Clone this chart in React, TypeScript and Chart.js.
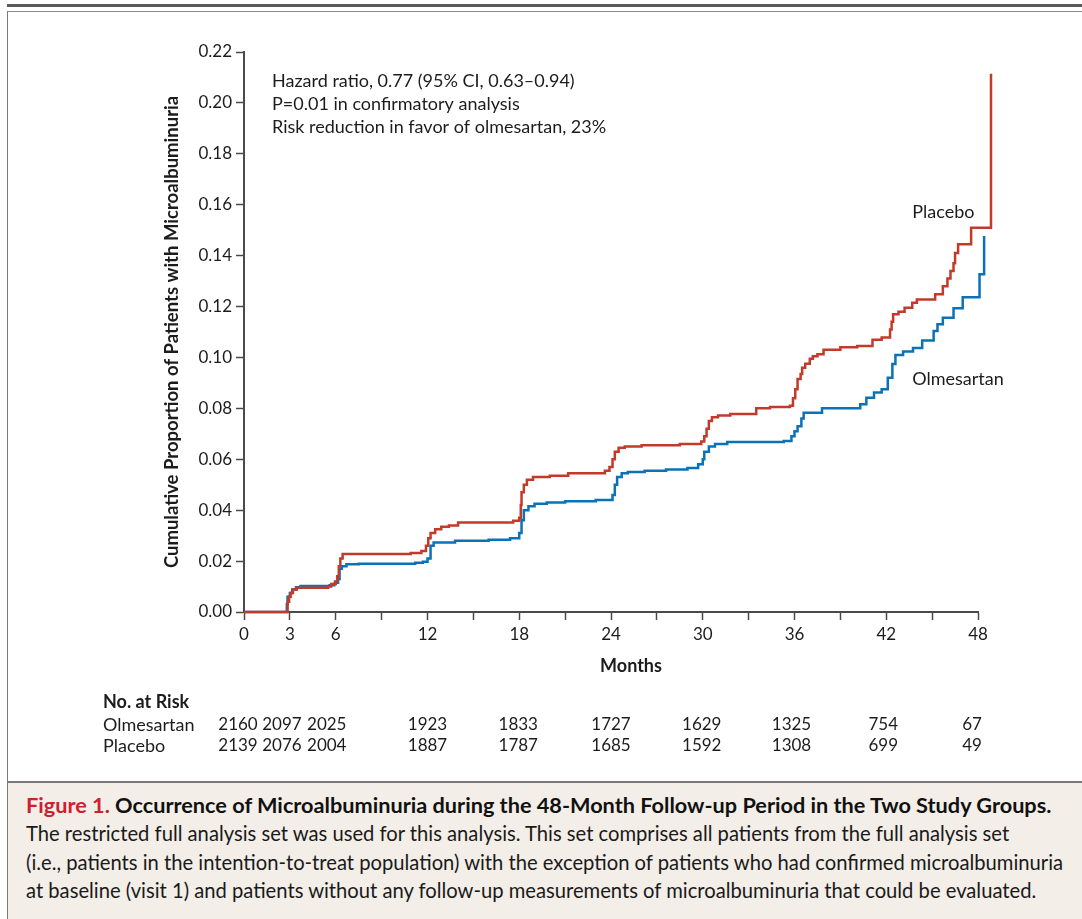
import React, { useEffect, useRef } from 'react';
import { Chart, registerables } from 'chart.js';

Chart.register(...registerables);

const FONT = "Lato, 'Open Sans', 'DejaVu Sans', sans-serif";

const placeboMonths = [0, 2.85, 2.95, 3.05, 3.2, 3.45, 5.5, 5.7, 5.95, 6.1, 6.2, 6.3, 6.45, 10.9, 11.6, 11.9, 12.05, 12.2, 12.5, 12.9, 13.4, 14.0, 17.6, 18.0, 18.1, 18.15, 18.3, 18.5, 18.9, 20.0, 21.2, 23.6, 23.9, 24.1, 24.25, 24.5, 24.9, 26.0, 28.5, 29.9, 30.1, 30.25, 30.4, 30.6, 31.0, 31.8, 33.5, 34.4, 35.7, 35.9, 36.05, 36.2, 36.4, 36.5, 36.7, 37.0, 37.2, 37.5, 37.9, 39.0, 40.1, 41.1, 41.7, 42.25, 42.35, 42.45, 42.8, 43.2, 43.7, 44.0, 45.2, 45.7, 46.0, 46.2, 46.4, 46.5, 46.7, 47.55, 48.85];
const placeboValues = [0, 0.004, 0.006, 0.0075, 0.0088, 0.0095, 0.0100, 0.011, 0.012, 0.014, 0.018, 0.021, 0.0228, 0.0232, 0.0240, 0.026, 0.029, 0.031, 0.0325, 0.0335, 0.034, 0.0352, 0.0358, 0.037, 0.042, 0.047, 0.050, 0.052, 0.053, 0.0535, 0.0545, 0.0555, 0.057, 0.060, 0.063, 0.0645, 0.065, 0.0655, 0.066, 0.067, 0.069, 0.072, 0.075, 0.0765, 0.0772, 0.0778, 0.0800, 0.0805, 0.081, 0.084, 0.0875, 0.0915, 0.0935, 0.096, 0.0975, 0.0995, 0.1005, 0.1013, 0.1030, 0.1040, 0.1045, 0.1070, 0.1078, 0.111, 0.114, 0.117, 0.118, 0.1195, 0.1215, 0.1228, 0.1248, 0.128, 0.131, 0.134, 0.137, 0.141, 0.1445, 0.151, 0.2115];

const olmesartanMonths = [0, 2.8, 2.85, 3.0, 3.15, 3.4, 3.7, 5.6, 5.9, 6.0, 6.15, 6.25, 6.4, 6.7, 7.5, 11.2, 11.7, 12.0, 12.2, 12.4, 13.8, 16.0, 17.4, 18.0, 18.15, 18.3, 18.6, 19.0, 19.8, 21.0, 23.0, 24.1, 24.25, 24.4, 24.7, 25.1, 26.2, 27.6, 29.0, 29.7, 30.0, 30.1, 30.4, 30.8, 31.6, 35.3, 35.8, 36.0, 36.2, 36.45, 36.6, 37.8, 40.3, 40.7, 41.2, 41.7, 42.1, 42.4, 42.6, 43.1, 43.75, 44.35, 45.1, 45.35, 45.7, 46.4, 47.0, 48.1, 48.4];
const olmesartanValues = [0, 0.003, 0.006, 0.0075, 0.0088, 0.0097, 0.0102, 0.0105, 0.011, 0.0115, 0.013, 0.017, 0.018, 0.0188, 0.0190, 0.0193, 0.0197, 0.021, 0.026, 0.0273, 0.0280, 0.0284, 0.0290, 0.031, 0.036, 0.040, 0.0415, 0.0425, 0.0430, 0.0435, 0.0440, 0.046, 0.050, 0.053, 0.0545, 0.0550, 0.0555, 0.0560, 0.0566, 0.058, 0.060, 0.063, 0.065, 0.066, 0.0668, 0.0672, 0.069, 0.071, 0.073, 0.076, 0.0783, 0.0800, 0.0816, 0.0842, 0.0862, 0.0875, 0.092, 0.0974, 0.1010, 0.1023, 0.1037, 0.1067, 0.1104, 0.1130, 0.1156, 0.1193, 0.1237, 0.1327, 0.1477];

const xLabelMonths = [0, 3, 6, 12, 18, 24, 30, 36, 42, 48];
const riskMonths = [0, 3, 6, 12, 18, 24, 30, 36, 42, 48];
const riskOlmesartan = [2160, 2097, 2025, 1923, 1833, 1727, 1629, 1325, 754, 67];
const riskPlacebo = [2139, 2076, 2004, 1887, 1787, 1685, 1592, 1308, 699, 49];
const riskNudge = [-6, -8, -9, 0, -1, 0, -1, -3, -3, -6];

const annotationLines = [
  'Hazard ratio, 0.77 (95% CI, 0.63\u20130.94)',
  'P=0.01 in confirmatory analysis',
  'Risk reduction in favor of olmesartan, 23%',
];

const seriesLabels = [
  { text: 'Placebo', month: 43.7, value: 0.157 },
  { text: 'Olmesartan', month: 43.7, value: 0.0915 },
];

const RED = '#c23a2a';
const BLUE = '#0b72b6';
const AXIS = '#4a4a4a';
const TEXT = '#1c1c1c';

const toPoints = (xs: number[], ys: number[]) => xs.map((x, i) => ({ x, y: ys[i] }));

const textPlugin = {
  id: 'kmText',
  afterDraw(chart: any) {
    const { ctx, chartArea, scales } = chart;
    const xs = scales.x;
    const ys = scales.y;
    ctx.save();
    ctx.fillStyle = TEXT;
    ctx.textBaseline = 'middle';
    ctx.textAlign = 'left';
    ctx.font = `18px ${FONT}`;
    annotationLines.forEach((line, i) => {
      ctx.fillText(line, chartArea.left + 28, chartArea.top + 29 + i * 23);
    });
    seriesLabels.forEach((s) => {
      ctx.fillText(s.text, xs.getPixelForValue(s.month), ys.getPixelForValue(s.value));
    });
    ctx.font = `bold 18px ${FONT}`;
    ctx.textAlign = 'center';
    ctx.fillText('Months', (chartArea.left + chartArea.right) / 2 + 20, chartArea.bottom + 54);
    // risk table
    ctx.textAlign = 'left';
    ctx.fillText('No. at Risk', 103, chartArea.bottom + 90);
    ctx.font = `18px ${FONT}`;
    ctx.fillText('Olmesartan', 103, chartArea.bottom + 113);
    ctx.fillText('Placebo', 103, chartArea.bottom + 134);
    ctx.font = `17px ${FONT}`;
    ctx.textAlign = 'center';
    riskMonths.forEach((m, i) => {
      const px = xs.getPixelForValue(m) + riskNudge[i];
      ctx.fillText(String(riskOlmesartan[i]), px, chartArea.bottom + 113);
      ctx.fillText(String(riskPlacebo[i]), px, chartArea.bottom + 134);
    });
    ctx.restore();
  },
};

export default function App() {
  const canvasRef = useRef<HTMLCanvasElement | null>(null);

  useEffect(() => {
    document.body.style.margin = '0';
    const canvas = canvasRef.current;
    if (!canvas) return;
    const chart = new Chart(canvas, {
      type: 'line',
      data: {
        datasets: [
          {
            label: 'Placebo',
            data: toPoints(placeboMonths, placeboValues),
            borderColor: RED,
            borderWidth: 2.5,
            pointRadius: 0,
            stepped: 'before',
            fill: false,
            clip: false,
          } as any,
          {
            label: 'Olmesartan',
            data: toPoints(olmesartanMonths, olmesartanValues),
            borderColor: BLUE,
            borderWidth: 2.5,
            pointRadius: 0,
            stepped: 'before',
            fill: false,
            clip: false,
          } as any,
        ],
      },
      options: {
        responsive: false,
        animation: false,
        events: [],
        layout: { padding: { left: 150, right: 104, top: 51, bottom: 131 } },
        plugins: {
          legend: { display: false },
          tooltip: { enabled: false },
        },
        scales: {
          x: {
            type: 'linear',
            min: 0,
            afterDataLimits: (scale: any) => { scale.max = 48; },
            afterFit: (scale: any) => { scale.height = 40; },
            border: { display: true, color: AXIS, width: 2 },
            grid: { display: true, drawOnChartArea: false, drawTicks: true, tickLength: 8, tickWidth: 1.5, tickColor: AXIS, color: AXIS },
            ticks: {
              stepSize: 3,
              autoSkip: false,
              maxRotation: 0,
              padding: 4,
              color: TEXT,
              font: { family: FONT, size: 17 },
              callback: (v: any) => (xLabelMonths.includes(Number(v)) ? String(v) : ''),
            },
          },
          y: {
            type: 'linear',
            min: 0,
            max: 0.22,
            afterFit: (scale: any) => { scale.width = 94; },
            border: { display: true, color: AXIS, width: 2 },
            grid: { display: true, drawOnChartArea: false, drawTicks: true, tickLength: 8, tickWidth: 1.5, tickColor: AXIS, color: AXIS },
            ticks: {
              stepSize: 0.02,
              padding: 4,
              color: TEXT,
              font: { family: FONT, size: 17 },
              callback: (v: any) => Number(v).toFixed(2),
            },
            title: {
              display: true,
              text: 'Cumulative Proportion of Patients with Microalbuminuria',
              color: TEXT,
              font: { family: FONT, size: 18.5, weight: 'bold' },
              padding: { top: 11, bottom: 0 },
            },
          },
        },
      },
      plugins: [textPlugin],
    });
    return () => chart.destroy();
  }, []);

  return (
    <div style={{ position: 'relative', width: 1082, height: 919, background: '#fff', overflow: 'hidden', fontFamily: FONT }}>
      <div style={{ position: 'absolute', left: 7, right: 0, top: 4, height: 3, background: '#5a5a5a' }} />
      <div style={{ position: 'absolute', left: 7, right: 0, top: 11, height: 1, background: '#8a8a8a' }} />
      <div style={{ position: 'absolute', left: 7, top: 11, bottom: 0, width: 1, background: '#7a7a7a' }} />
      <canvas ref={canvasRef} width={1082} height={782} style={{ position: 'absolute', left: 0, top: 1 }} />
      <div style={{ position: 'absolute', left: 8, right: 0, top: 781, height: 2, background: '#7a7a7a' }} />
      <div style={{ position: 'absolute', left: 8, right: 0, top: 783, bottom: 0, background: '#f3eee7' }}>
        <div style={{ position: 'absolute', left: 18, top: 8, lineHeight: '28px', fontSize: 21.7, fontWeight: 'bold', color: '#111', whiteSpace: 'nowrap' }}>
          <span style={{ color: '#cf2030' }}>Figure 1.</span> Occurrence of Microalbuminuria during the 48-Month Follow-up Period in the Two Study Groups.
        </div>
        <div style={{ position: 'absolute', left: 18, top: 36, lineHeight: '28.5px', fontSize: 20.2, color: '#1a1a1a', whiteSpace: 'nowrap' }}>
          The restricted full analysis set was used for this analysis. This set comprises all patients from the full analysis set<br />
          (i.e., patients in the intention-to-treat population) with the exception of patients who had confirmed microalbuminuria<br />
          at baseline (visit 1) and patients without any follow-up measurements of microalbuminuria that could be evaluated.
        </div>
      </div>
    </div>
  );
}
